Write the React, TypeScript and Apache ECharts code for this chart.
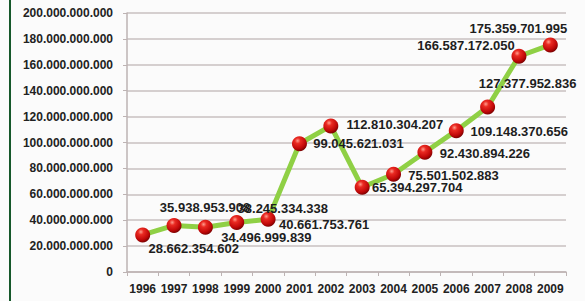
import React, { useEffect, useRef } from "react";
import * as echarts from "echarts";

const years = ["1996","1997","1998","1999","2000","2001","2002","2003","2004","2005","2006","2007","2008","2009"];
const values = [
  28662354602, 35938953908, 34496999839, 38245334338, 40661753761,
  99045621031, 112810304207, 65394297704, 75501502883, 92430894226,
  109148370656, 127377952836, 166587172050, 175359701995,
];
// label offsets (text centre relative to the point), in px
const labelOffsets: [number, number][] = [
  [51, 14], [31, -18], [61, 10], [46, -14], [56, 5],
  [59, 0], [64, -1], [55, 0], [60, 1], [60, 1],
  [63, 1], [40, -24], [-53, -11], [-32, -16],
];

const fmt = (v: number) => String(Math.round(v)).replace(/\B(?=(\d{3})+(?!\d))/g, ".");

export default function App() {
  const ref = useRef<HTMLDivElement>(null);
  useEffect(() => {
    if (!ref.current) return;
    const chart = echarts.init(ref.current, null, { renderer: "svg" });
    const sphere = new echarts.graphic.RadialGradient(0.38, 0.3, 0.75, [
      { offset: 0, color: "#ff9c8c" },
      { offset: 0.25, color: "#ea2a22" },
      { offset: 0.7, color: "#c00808" },
      { offset: 1, color: "#6e0000" },
    ]);
    const data = values.map((v, i) => ({
      value: v,
      label: {
        show: true,
        position: "inside" as const,
        offset: labelOffsets[i],
        align: "center" as const,
        verticalAlign: "middle" as const,
        formatter: () => fmt(v),
      },
    }));
    chart.setOption({
      animation: false,
      backgroundColor: "#fbfbfb",
      textStyle: { fontFamily: "Liberation Sans, Arial, sans-serif" },
      graphic: [
        { type: "rect", left: 9, top: 0, shape: { width: 2, height: 301 }, style: { fill: "#16572a" } },
      ],
      grid: { left: 127, right: 19, top: 13, bottom: 29, containLabel: false },
      xAxis: {
        type: "category",
        data: years,
        boundaryGap: true,
        axisLine: { lineStyle: { color: "#bdb3b3", width: 1.5 } },
        axisTick: { show: true, length: 4, lineStyle: { color: "#bdb3b3" } },
        axisLabel: { color: "#222", fontWeight: "bold", fontSize: 12, margin: 11, interval: 0 },
      },
      yAxis: {
        type: "value",
        min: 0,
        max: 200000000000,
        interval: 20000000000,
        axisLine: { show: true, lineStyle: { color: "#bdb3b3", width: 1.5 } },
        axisTick: { show: true, length: 4, lineStyle: { color: "#bdb3b3" } },
        splitLine: { lineStyle: { color: "#c9c0c0", width: 1.5 } },
        axisLabel: { color: "#222", fontWeight: "bold", fontSize: 12, margin: 14, formatter: (v: number) => fmt(v) },
      },
      series: [
        {
          type: "line",
          data,
          symbol: "circle",
          symbolSize: 15,
          lineStyle: { color: "#8fd045", width: 5 },
          itemStyle: { color: sphere, borderWidth: 0 },
          label: { color: "#1e1e1e", fontWeight: "bold", fontSize: 13 },
          z: 3,
        },
      ],
    });
    return () => chart.dispose();
  }, []);
  return <div ref={ref} style={{ position: "absolute", left: 0, top: 0, width: 585, height: 301 }} />;
}
